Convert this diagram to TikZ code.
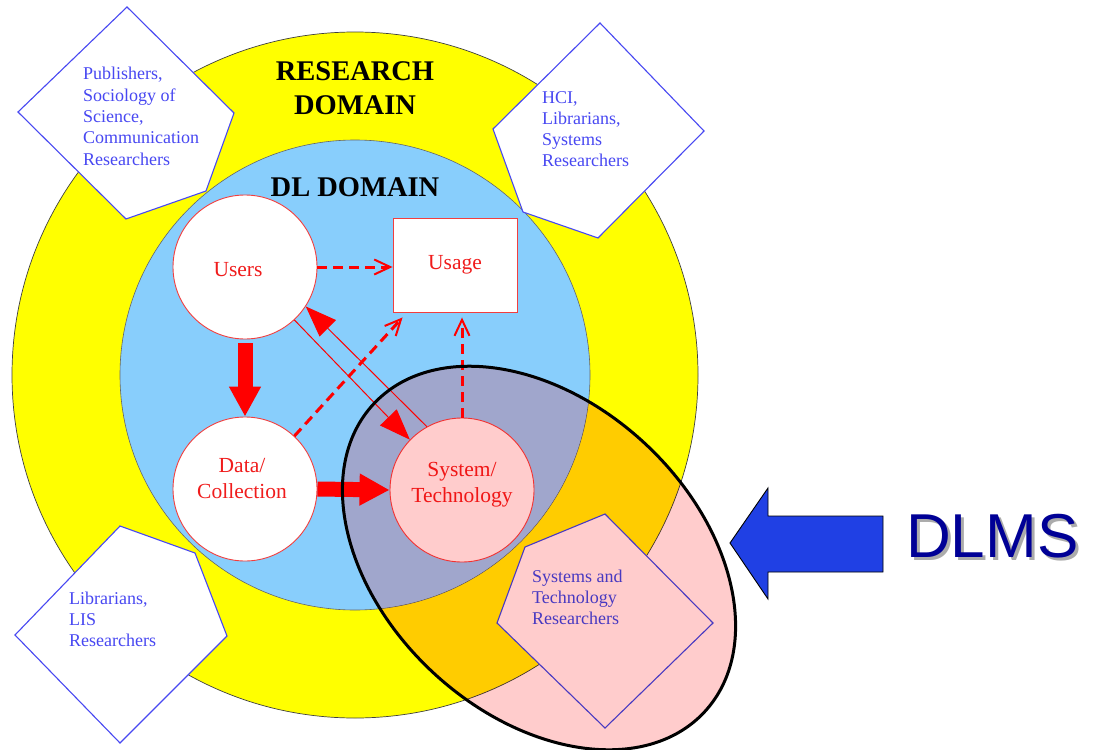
\documentclass[tikz,border=0pt]{standalone}
\usepackage{fontspec}
\setmainfont{Liberation Serif}
\newfontfamily\dlmsfont{Liberation Sans}
\usetikzlibrary{arrows.meta,calc}
\definecolor{ringyellow}{RGB}{255,255,0}
\definecolor{dlblue}{RGB}{136,206,252}
\definecolor{lensblue}{RGB}{160,208,255}
\definecolor{lenspink}{RGB}{255,204,204}
\definecolor{groupblue}{RGB}{72,72,242}
\definecolor{nodered}{RGB}{240,28,28}
\definecolor{navy}{RGB}{0,0,150}
\definecolor{pointerblue}{RGB}{32,64,228}
\tikzset{
  roleshape/.style={draw=groupblue, fill=white, line width=1.1pt, line join=miter},
  roletext/.style={text=groupblue, anchor=base west, inner sep=0pt,
    font=\fontsize{18}{21.3}\selectfont},
  entity/.style={circle, draw=nodered!85, fill=white, line width=0.9pt,
    minimum size=144pt, inner sep=0pt},
  entitytext/.style={text=nodered, align=center, inner sep=0pt,
    font=\fontsize{21.5}{26}\selectfont},
  domaintitle/.style={font=\bfseries\fontsize{28.5}{33}\selectfont, inner sep=0pt, anchor=base},
  bigflow/.style={draw=red, line width=15pt, -{Triangle[length=30pt,width=30pt]}},
  thinflow/.style={draw=red, line width=1pt, -{Triangle[length=31pt,width=23pt]}},
  usageflow/.style={draw=red, line width=3pt, dash pattern=on 10pt off 6pt,
    -{Straight Barb[length=16pt,width=15pt,line width=2pt]}},
}
\begin{document}
\begin{tikzpicture}[x=1pt,y=-1pt]
  % canvas
  \fill[white] (0,0) rectangle (1099,749);
  \useasboundingbox (0,0) rectangle (1099,749);

  % research domain ring and DL domain disc
  \filldraw[fill=ringyellow, draw=black!75, line width=0.7pt] (355,375) circle [radius=343];
  \filldraw[fill=dlblue, draw=black!60, line width=0.6pt] (355,375) circle [radius=235];

  % part of the DL disc covered by the DLMS lens
  \begin{scope}
    \clip (355,375) circle [radius=234.6];
    \begin{scope}[shift={(539,558)}, rotate=-43]
      \fill[lensblue] (0,0) ellipse [x radius=226, y radius=156];
    \end{scope}
  \end{scope}

  % research communities
  \path[roleshape] (18,112) -- (127,7) -- (234,113) -- (206,191) -- (126,219) -- cycle;
  \path[roleshape] (493,129) -- (600,23) -- (704,131) -- (598,238) -- (523,212) -- cycle;
  \path[roleshape] (15,635) -- (120,526) -- (195,553) -- (227,636) -- (120,743) -- cycle;
  \path[roleshape] (497,623) -- (525,547) -- (605,514) -- (713,623) -- (605,728) -- cycle;

  \node[roletext] (pubtext) at (83,80)
    {\begin{tabular}[t]{@{}l@{}}Publishers,\\Sociology of\\Science,\\Communication\\Researchers\end{tabular}};
  \node[roletext] (hcitext) at (542,103)
    {\begin{tabular}[t]{@{}l@{}}HCI,\\Librarians,\\Systems\\Researchers\end{tabular}};
  \node[roletext] (listext) at (69,604)
    {\begin{tabular}[t]{@{}l@{}}Librarians,\\LIS\\Researchers\end{tabular}};
  \node[roletext] (systext) at (532,582)
    {\begin{tabular}[t]{@{}l@{}}Systems and\\Technology\\Researchers\end{tabular}};

  % domain titles
  \node[domaintitle] (research) at (355,81) {RESEARCH};
  \node[domaintitle] (researchb) at (355,114) {DOMAIN};
  \node[domaintitle] (dltitle) at (355,196) {DL DOMAIN};

  % DL entities
  \node[entity] (users) at (245,267) {};
  \node[entity] (data) at (245,489) {};
  \node[entity] (system) at (462,490) {};
  \node[draw=nodered!85, fill=white, line width=0.9pt, minimum width=124pt,
        minimum height=94pt, inner sep=0pt, text=nodered,
        font=\fontsize{21.5}{26}\selectfont] (usage) at (455,265) {Usage};
  \node[entitytext] (userstext) at (238,270) {Users};
  \node[entitytext] (datatext) at (242,479) {Data/\\Collection};
  \node[entitytext] (systemtext) at (462,485) {System/\\Technology};

  % relations
  \draw[bigflow, shorten <=4pt] (users.south) -- (data.north);
  \draw[bigflow] (data.east) -- (system.west);
  \draw[thinflow] (users.-47) -- (system.136);
  \draw[thinflow] (system.119) -- (users.-33);
  \draw[usageflow] (users.east) -- (users.east -| usage.west);
  \draw[usageflow] (data.47) -- ($(usage.south west)+(10,5)$);
  \draw[usageflow, shorten >=5pt] (system.north) -- (system.north |- usage.south);

  % DLMS lens
  \begin{scope}[shift={(539,558)}, rotate=-43]
    \fill[lenspink, blend mode=multiply] (0,0) ellipse [x radius=226, y radius=156];
    \draw[black, line width=3pt] (0,0) ellipse [x radius=226, y radius=156];
  \end{scope}

  % DLMS pointer and its label with a drop shadow
  \filldraw[fill=pointerblue, draw=black, line width=0.9pt, line join=miter]
    (730,543) -- (768,488) -- (768,516) -- (883,516) -- (883,572) -- (768,572) -- (768,599) -- cycle;
  \node[anchor=base west, inner sep=0pt, text=navy,
        font=\dlmsfont\fontsize{62}{62}\selectfont] (dlms) at (906,557)
    {\makebox[0pt][l]{\hspace{3pt}\raisebox{-3pt}{\textcolor{black!33}{DLMS}}}DLMS};
\end{tikzpicture}
\end{document}
